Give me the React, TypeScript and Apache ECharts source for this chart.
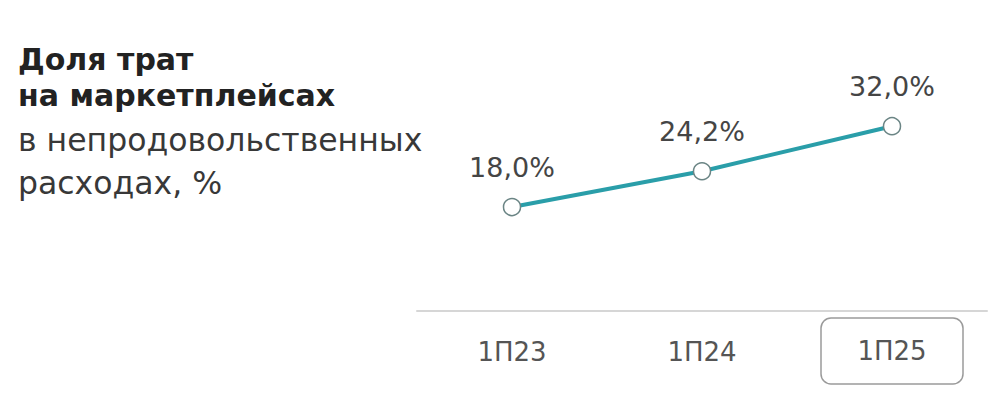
import React, { useEffect, useRef } from "react";
import * as echarts from "echarts";

const categories = ["1П23", "1П24", "1П25"];
const shareValues = [18.0, 24.2, 32.0];
const titleBold = ["Доля трат", "на маркетплейсах"];
const titleRegular = ["в непродовольственных", "расходах, %"];
const highlighted = "1П25";

export default function App() {
  const ref = useRef<HTMLDivElement>(null);
  useEffect(() => {
    const chart = echarts.init(ref.current!, null, { renderer: "svg" });
    const font = "'DejaVu Sans', sans-serif";
    chart.setOption({
      animation: false,
      backgroundColor: "#ffffff",
      graphic: [
        {
          type: "text",
          left: 18,
          top: 41,
          style: {
            text: titleBold.join("\n"),
            font: `bold 30px ${font}`,
            fill: "#222222",
            lineHeight: 36,
          },
        },
        {
          type: "text",
          left: 18,
          top: 118,
          style: {
            text: titleRegular.join("\n"),
            font: `31.5px ${font}`,
            fill: "#383838",
            lineHeight: 43,
          },
        },
      ],
      grid: { left: 417, width: 570, top: 80, height: 231 },
      xAxis: {
        type: "category",
        data: categories,
        boundaryGap: true,
        axisLine: { lineStyle: { color: "#d6d6d6", width: 2 } },
        axisTick: { show: false },
        axisLabel: {
          margin: 7,
          formatter: (v: string) => (v === highlighted ? `{b|${v}}` : `{a|${v}}`),
          rich: {
            a: {
              fontFamily: font,
              fontSize: 26,
              color: "#555555",
              width: 142,
              height: 68,
              lineHeight: 68,
              align: "center",
            },
            b: {
              fontFamily: font,
              fontSize: 26,
              color: "#555555",
              width: 142,
              height: 66,
              lineHeight: 66,
              align: "center",
              borderColor: "#9a9a9a",
              borderWidth: 1.5,
              borderRadius: 10,
            },
          },
        },
      },
      yAxis: {
        type: "value",
        min: 0,
        max: 40,
        show: false,
        splitLine: { show: false },
      },
      series: [
        {
          type: "line",
          data: shareValues,
          symbol: "circle",
          symbolSize: 17,
          lineStyle: { color: "#2a9ea9", width: 4 },
          itemStyle: { color: "#ffffff", borderColor: "#6b8585", borderWidth: 1.5 },
          label: {
            show: true,
            position: "top",
            distance: 17,
            formatter: (p: any) => p.value.toFixed(1).replace(".", ",") + "%",
            fontFamily: font,
            fontSize: 27,
            color: "#454545",
          },
          z: 3,
        },
      ],
    });
    return () => chart.dispose();
  }, []);
  return (
    <div
      ref={ref}
      style={{ position: "fixed", left: 0, top: 0, width: 1000, height: 415 }}
    />
  );
}
